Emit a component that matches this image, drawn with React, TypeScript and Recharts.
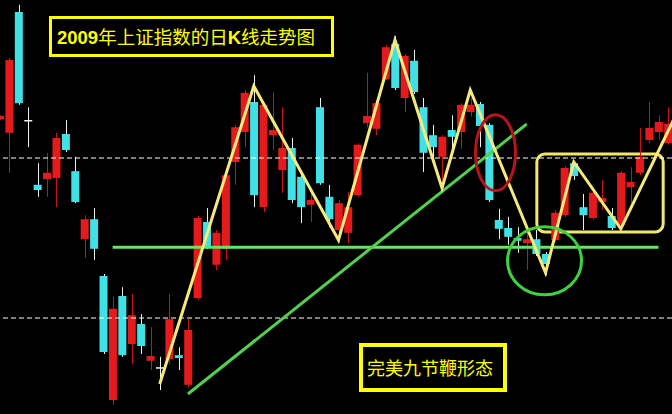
import { ComposedChart, Bar, Line, XAxis, YAxis, ReferenceLine, ReferenceArea, ReferenceDot } from 'recharts'

// candles from index -1 (cut at the left edge) to 70
const OPEN = [3202, 3168, 3470, 3200, 3038, 3052, 3055, 3165, 3072, 2902, 2952, 2810, 2500, 2760, 2640, 2690, 2598, 2582, 2602, 2612, 2538, 2755, 2945, 2838, 2878, 3095, 3170, 3245, 2982, 3162, 3075, 3130, 3058, 2988, 3232, 3008, 2925, 2918, 3012, 3192, 3178, 3302, 3390, 3255, 3348, 3232, 3162, 3108, 3175, 3170, 3220, 3240, 3188, 2950, 2930, 2905, 2892, 2902, 2865, 2900, 2962, 3092, 2982, 2955, 2995, 2960, 2938, 3032, 3068, 3150, 3170, 3142]
const HIGH = [3212, 3355, 3488, 3232, 3092, 3118, 3168, 3200, 3108, 2962, 2980, 2815, 2758, 2782, 2765, 2715, 2682, 2608, 2765, 2632, 2702, 2960, 2980, 2925, 3070, 3188, 3275, 3312, 3242, 3270, 3232, 3155, 3062, 3025, 3255, 3038, 3000, 3020, 3142, 3318, 3250, 3388, 3410, 3365, 3375, 3255, 3188, 3162, 3212, 3242, 3255, 3245, 3192, 2978, 2958, 2932, 2928, 2925, 2870, 2975, 3085, 3098, 3015, 3025, 3050, 2980, 3072, 3082, 3180, 3245, 3212, 3232]
const LOW = [3200, 3068, 3238, 3132, 3008, 3008, 2982, 3120, 2992, 2855, 2850, 2615, 2488, 2608, 2590, 2615, 2575, 2525, 2590, 2575, 2532, 2750, 2878, 2825, 2850, 3038, 3132, 2982, 2970, 3125, 3018, 2992, 2942, 2945, 3038, 2932, 2892, 2892, 3008, 3182, 3162, 3300, 3275, 3220, 3265, 3070, 3100, 3050, 3128, 3128, 3208, 3132, 2995, 2902, 2888, 2868, 2825, 2860, 2812, 2895, 2958, 3050, 2925, 2950, 2975, 2925, 2932, 2992, 3062, 3142, 3150, 3138]
const CLOSE = [3210, 3350, 3242, 3200, 3025, 3068, 3155, 3125, 2995, 2952, 2878, 2620, 2728, 2612, 2712, 2635, 2610, 2582, 2702, 2605, 2675, 2955, 2882, 2918, 3062, 3182, 3268, 3012, 3238, 3175, 3130, 3000, 2982, 3000, 3042, 2952, 2992, 2982, 3138, 3210, 3242, 3382, 3280, 3360, 3270, 3118, 3132, 3158, 3158, 3238, 3238, 3185, 3000, 2928, 2908, 2898, 2902, 2865, 2840, 2968, 3080, 3060, 2962, 3018, 3005, 2930, 3068, 3045, 3108, 3180, 3195, 3190]

// yellow zigzag turning points: [candle index, level]
const ZIGZAG = [[16, 2540], [26, 3285], [35, 2900], [41, 3400], [46, 3030], [49, 3275], [57, 2818], [60, 3095], [65, 2928], [71, 3220]]

const DASHED_LEVELS = [3105, 2705]
const SUPPORT = 2882
const TREND = [[19, 2515], [55, 3190]]

const RED = '#e41a1c'
const CYAN = '#3fe0e6'

const data = Array.from({ length: 73 }, (_, k) => {
  const i = k - 1
  const z = ZIGZAG.find((p) => p[0] === i)
  return {
    i,
    open: k < OPEN.length ? OPEN[k] : null,
    high: k < HIGH.length ? HIGH[k] : null,
    low: k < LOW.length ? LOW[k] : null,
    close: k < CLOSE.length ? CLOSE[k] : null,
    zig: z ? z[1] : null,
  }
})

function Candle(props: any) {
  const { x, y, width, height, payload } = props
  if (!payload || payload.open == null) return null
  const { open, high, low, close } = payload
  const top = Math.min(y, y + height)
  const bot = Math.max(y, y + height)
  const k = (bot - top) / (high - low)
  const py = (v: number) => top + (high - v) * k
  const flat = open === close
  const up = close > open
  const body = flat ? '#f2f2f2' : up ? RED : CYAN
  const wick = flat ? '#f2f2f2' : up ? '#c81414' : '#e6f2f2'
  const cx = Math.round(x + width / 2) + 0.5
  const bTop = py(Math.max(open, close))
  const bBot = py(Math.min(open, close))
  return (
    <g>
      <line x1={cx} x2={cx} y1={top} y2={bot} stroke={wick} strokeWidth={1} />
      <rect x={x} y={bTop} width={width} height={Math.max(bBot - bTop, 1.5)} fill={body} />
    </g>
  )
}

export default function App() {
  return (
    <div style={{ position: 'absolute', left: 0, top: 0, width: 672, height: 414, overflow: 'hidden', background: '#000', fontFamily: '"Noto Sans CJK SC", sans-serif' }}>
      <div style={{ position: 'absolute', left: -5, top: 0 }}>
        <ComposedChart width={687} height={414} data={data} margin={{ top: 0, right: 0, bottom: 0, left: 0 }}>
          <XAxis dataKey="i" type="category" hide />
          <YAxis type="number" domain={[2465, 3500]} allowDataOverflow hide />
          {DASHED_LEVELS.map((v) => (
            <ReferenceLine key={v} y={v} stroke="#ffffff" strokeDasharray="5 3" strokeWidth={1} />
          ))}
          <Bar
            dataKey={(d: any) => (d.low == null ? null : [d.low, d.high])}
            barSize={8}
            shape={<Candle />}
            isAnimationActive={false}
          />
          <ReferenceLine
            segment={[{ x: 11, y: SUPPORT }, { x: 69, y: SUPPORT }]}
            stroke="#62e85c"
            strokeWidth={3}
          />
          <ReferenceLine
            segment={[{ x: TREND[0][0], y: TREND[0][1] }, { x: TREND[1][0], y: TREND[1][1] }]}
            stroke="#52d04e"
            strokeWidth={3}
          />
          <Line
            dataKey="zig"
            type="linear"
            stroke="#f6ea7c"
            strokeWidth={3}
            dot={false}
            connectNulls
            isAnimationActive={false}
          />
          <ReferenceArea
            x1={57}
            x2={69}
            y1={2920}
            y2={3115}
            shape={(p: any) => (
              <rect x={p.x - 4} y={p.y} width={p.width + 4} height={p.height} rx={8} fill="none" stroke="#f2e66c" strokeWidth={3} />
            )}
          />
          <ReferenceDot
            x={52}
            y={3118}
            shape={(p: any) => (
              <ellipse cx={p.cx - 3} cy={p.cy} rx={20} ry={38} fill="none" stroke="#b8141c" strokeWidth={3} />
            )}
          />
          <ReferenceDot
            x={57}
            y={2848}
            shape={(p: any) => (
              <ellipse cx={p.cx - 1} cy={p.cy} rx={37} ry={34} fill="none" stroke="#3ed23e" strokeWidth={3} />
            )}
          />
        </ComposedChart>
      </div>
      <div style={{ position: 'absolute', left: 49, top: 16, width: 285, height: 41, border: '3px solid #ffff00', boxSizing: 'border-box', color: '#ffff00', fontSize: 18.5, lineHeight: '35px', paddingLeft: 5, whiteSpace: 'nowrap' }}>
        <span style={{ fontFamily: '"Liberation Sans", sans-serif', fontWeight: 700 }}>2009</span>年上证指数的日<span style={{ fontFamily: '"Liberation Sans", sans-serif', fontWeight: 700 }}>K</span>线走势图
      </div>
      <div style={{ position: 'absolute', left: 359, top: 343, width: 148, height: 49, border: '4px solid #ffff00', boxSizing: 'border-box', color: '#ffff00', fontSize: 18, lineHeight: '41px', paddingLeft: 4, whiteSpace: 'nowrap' }}>
        完美九节鞭形态
      </div>
    </div>
  )
}
